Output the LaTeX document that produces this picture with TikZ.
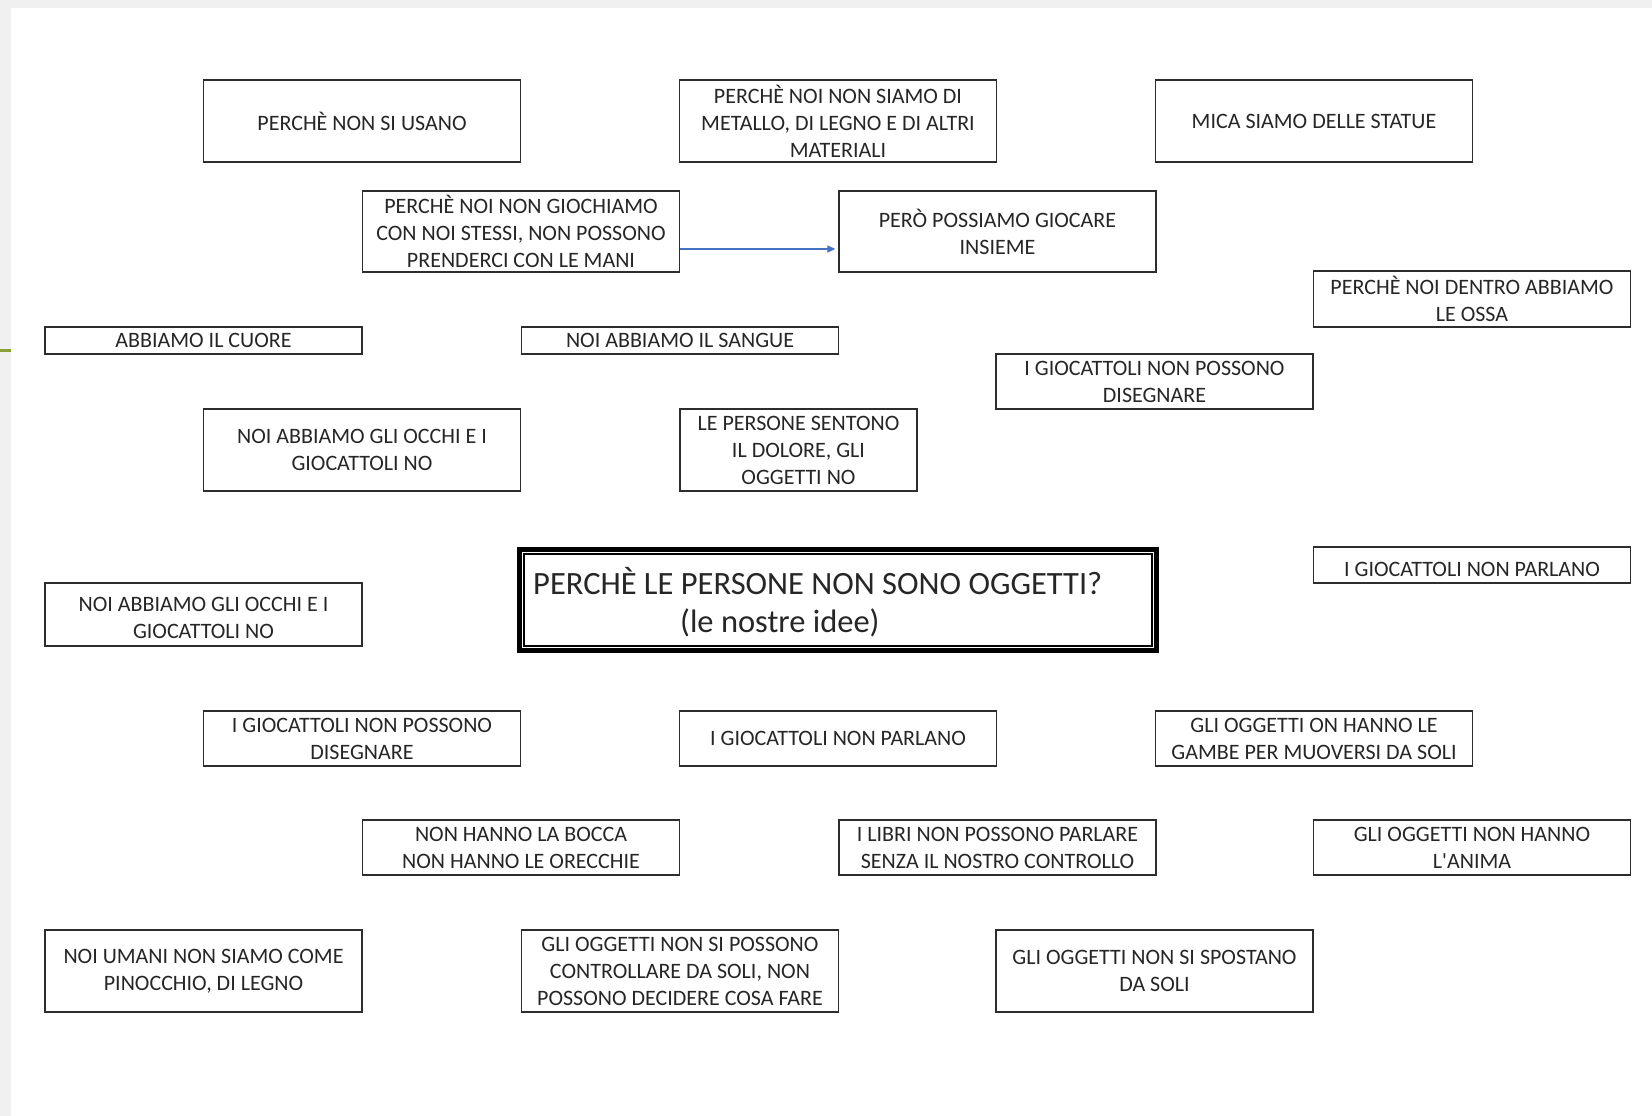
\documentclass[tikz,border=0pt]{standalone}
\usepackage{fontspec}
\setmainfont{Carlito}[Ligatures=TeXOff]
\usetikzlibrary{arrows.meta}
\definecolor{ink}{RGB}{38,38,38}
\definecolor{edge}{RGB}{45,45,45}
\definecolor{arrowblue}{RGB}{68,114,196}
\definecolor{olive}{RGB}{137,160,52}
\definecolor{strip}{RGB}{240,240,240}
\begin{document}
\begin{tikzpicture}[x=1pt,y=-1pt,
  idea/.style={draw=edge, line width=1.4pt, inner sep=0pt, align=center, text=ink,
    font=\fontsize{22}{27}\selectfont, minimum width=317pt},
  arr/.style={draw=arrowblue, line width=1.4pt, -{Triangle[length=8pt,width=7pt]}},
  titletxt/.style={text=ink, font=\fontsize{32.5}{37}\selectfont, inner sep=0pt}
]
\useasboundingbox (0,0) rectangle (1652,1116);
\fill[white] (0,0) rectangle (1652,1116);
\fill[strip] (0,0) rectangle (1652,8);
\fill[strip] (0,0) rectangle (11,1116);
\draw[olive, line width=3pt] (0,350) -- (11,350);

% row 1
\node[idea, minimum height=82pt] (A) at (362,121) {PERCHÈ NON SI USANO};
\node[idea, minimum height=82pt] (B) at (838,121) {PERCHÈ NOI NON SIAMO DI\\METALLO, DI LEGNO E DI ALTRI\\MATERIALI};
\node[idea, minimum height=82pt] (C) at (1314,121) {MICA SIAMO DELLE STATUE};
% row 2
\node[idea, minimum height=81pt] (D) at (521,231.5) {PERCHÈ NOI NON GIOCHIAMO\\CON NOI STESSI, NON POSSONO\\PRENDERCI CON LE MANI};
\node[idea, minimum height=81pt] (E) at (997.5,231.5) {PERÒ POSSIAMO GIOCARE\\INSIEME};
\draw[arr, shorten >=3pt] ([yshift=-17.5pt]D.east) -- ([yshift=-17.5pt]E.west);
% row 3
\node[idea, minimum height=56pt] (F) at (1472,299) {PERCHÈ NOI DENTRO ABBIAMO\\LE OSSA};
\node[idea, minimum height=27pt] (G) at (203.5,340.5) {ABBIAMO IL CUORE};
\node[idea, minimum height=27pt] (H) at (680,340.5) {NOI ABBIAMO IL SANGUE};
\node[idea, minimum height=55pt] (I) at (1154.5,381.5) {I GIOCATTOLI NON POSSONO\\DISEGNARE};
% row 4
\node[idea, minimum height=82pt] (J) at (362,450) {NOI ABBIAMO GLI OCCHI E I\\GIOCATTOLI NO};
\node[idea, minimum height=82pt, minimum width=237pt] (K) at (798.5,450) {LE PERSONE SENTONO\\IL DOLORE, GLI\\OGGETTI NO};
% title
\node[draw=black, line width=5pt, minimum width=637pt, minimum height=101pt, inner sep=0pt] (T0) at (838,600) {};
\draw[black, line width=1.4pt] ([shift={(7pt,-7pt)}]T0.north west) rectangle ([shift={(-7pt,7pt)}]T0.south east);
\node[titletxt, anchor=base west] (T1) at (533,594) {PERCHÈ LE PERSONE NON SONO OGGETTI?};
\node[titletxt, anchor=base west] (T2) at (680,632) {(le nostre idee)};
% right / left middle
\node[idea, minimum height=36pt] (L) at (1472,565) {\raisebox{-4pt}[\height][\depth]{I GIOCATTOLI NON PARLANO}};
\node[idea, minimum height=63pt] (M) at (203.5,614.5) {\raisebox{-5pt}[\height][\depth]{\begin{tabular}{@{}c@{}}NOI ABBIAMO GLI OCCHI E I\\GIOCATTOLI NO\end{tabular}}};
% row 6
\node[idea, minimum height=55pt] (N) at (362,738.5) {I GIOCATTOLI NON POSSONO\\DISEGNARE};
\node[idea, minimum height=55pt] (O) at (838,738.5) {I GIOCATTOLI NON PARLANO};
\node[idea, minimum height=55pt] (P) at (1314,738.5) {GLI OGGETTI ON HANNO LE\\GAMBE PER MUOVERSI DA SOLI};
% row 7
\node[idea, minimum height=55pt] (Q) at (521,847.5) {NON HANNO LA BOCCA\\NON HANNO LE ORECCHIE};
\node[idea, minimum height=55pt] (R) at (997.5,847.5) {I LIBRI NON POSSONO PARLARE\\SENZA IL NOSTRO CONTROLLO};
\node[idea, minimum height=55pt] (S) at (1472,847.5) {GLI OGGETTI NON HANNO\\L'ANIMA};
% row 8
\node[idea, minimum height=82pt] (U1) at (203.5,971) {NOI UMANI NON SIAMO COME\\PINOCCHIO, DI LEGNO};
\node[idea, minimum height=82pt] (U2) at (680,971) {GLI OGGETTI NON SI POSSONO\\CONTROLLARE DA SOLI, NON\\POSSONO DECIDERE COSA FARE};
\node[idea, minimum height=82pt] (U3) at (1154.5,971) {GLI OGGETTI NON SI SPOSTANO\\DA SOLI};
\end{tikzpicture}
\end{document}
